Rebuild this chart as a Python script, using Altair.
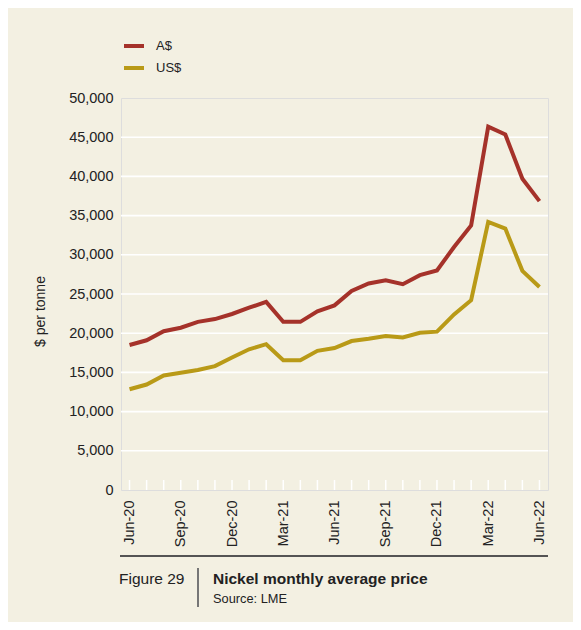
import altair as alt
import pandas as pd

months = ["Jun-20", "Jul-20", "Aug-20", "Sep-20", "Oct-20", "Nov-20", "Dec-20",
          "Jan-21", "Feb-21", "Mar-21", "Apr-21", "May-21", "Jun-21", "Jul-21",
          "Aug-21", "Sep-21", "Oct-21", "Nov-21", "Dec-21", "Jan-22", "Feb-22",
          "Mar-22", "Apr-22", "May-22", "Jun-22"]
aud = [18500, 19100, 20250, 20700, 21450, 21800, 22450, 23250, 24000, 21450,
       21450, 22800, 23550, 25400, 26350, 26750, 26250, 27400, 28000, 31000,
       33750, 46350, 45350, 39700, 36850]
usd = [12850, 13450, 14600, 14950, 15300, 15800, 16900, 17950, 18600, 16550,
       16550, 17750, 18100, 19000, 19300, 19650, 19450, 20050, 20200, 22400,
       24200, 34200, 33350, 27950, 25900]
series = ["A$", "US$"]
colors = ["#a5322a", "#b99a17"]
y_ticks = list(range(0, 50001, 5000))
label_every = 3
y_title = "$ per tonne"
fig_label = "Figure 29"
fig_title = "Nickel monthly average price"
fig_source = "Source: LME"

FONT = "Liberation Sans, Arial, sans-serif"
W, H = 427, 392

rows = []
for i, m in enumerate(months):
    rows.append({"idx": i, "month": m, "series": series[0], "price": aud[i]})
    rows.append({"idx": i, "month": m, "series": series[1], "price": usd[i]})
df = pd.DataFrame(rows)
ticks_df = pd.DataFrame({"idx": list(range(len(months))), "month": months})
grid_df = pd.DataFrame({"price": y_ticks[1:-1]})

label_arr = "[" + ",".join("'" + m + "'" for m in months) + "]"

x_scale = alt.Scale(domain=[-0.5, len(months) - 0.5], nice=False, zero=False)
y_scale = alt.Scale(domain=[0, 50000], nice=False)

x_axis = alt.Axis(
    values=list(range(0, len(months), label_every)),
    labelExpr=label_arr + "[datum.value]",
    labelAngle=-90, labelFontSize=14.5, labelColor="#222222", labelFont=FONT,
    labelPadding=10, ticks=False, domain=False, grid=False, title=None,
)
y_axis = alt.Axis(
    values=y_ticks, format=",.0f", labelFontSize=14.5, labelColor="#222222",
    labelFont=FONT, labelPadding=8, ticks=False, domain=False, grid=False,
    title=y_title, titleFont=FONT, titleFontSize=14, titleFontWeight="normal",
    titleColor="#222222", titleX=-81, titleY=213, titleBaseline="middle",
    titleAngle=-90,
)

x_enc = alt.X("idx:Q", scale=x_scale, axis=x_axis)
y_enc = alt.Y("price:Q", scale=y_scale, axis=y_axis)

grid = alt.Chart(grid_df).mark_rule(color="#ffffff", strokeWidth=1.6).encode(
    y=y_enc, x=alt.value(0), x2=alt.value(W)
)

tick_marks = alt.Chart(ticks_df).mark_rule(color="#ffffff", strokeWidth=1.5).encode(
    x=x_enc, y=alt.value(H), y2=alt.value(H - 10)
)

lines = alt.Chart(df).mark_line(strokeWidth=4).encode(
    x=x_enc,
    y=y_enc,
    color=alt.Color(
        "series:N",
        scale=alt.Scale(domain=series, range=colors),
        legend=alt.Legend(
            orient="none", legendX=1, legendY=-64, title=None,
            symbolType="stroke", symbolStrokeWidth=4, symbolSize=400,
            labelFontSize=13, labelFont=FONT, labelColor="#222222",
            labelOffset=10, rowPadding=2, padding=0,
        ),
    ),
)

bottom_rule = alt.Chart(ticks_df).mark_rule(color="#555555", strokeWidth=1.3).encode(
    x=alt.value(-1), x2=alt.value(W), y=alt.value(458)
)

sep_rule = alt.Chart(ticks_df).mark_rule(color="#777777", strokeWidth=1).encode(
    x=alt.value(77), y=alt.value(470), y2=alt.value(509)
)

cap1 = alt.Chart(pd.DataFrame({"t": [fig_label]})).mark_text(
    align="left", baseline="alphabetic", font=FONT, fontSize=15.5, color="#222222"
).encode(text="t:N", x=alt.value(-2), y=alt.value(486))

cap2 = alt.Chart(pd.DataFrame({"t": [fig_title]})).mark_text(
    align="left", baseline="alphabetic", font=FONT, fontSize=15.5, fontWeight="bold",
    color="#222222"
).encode(text="t:N", x=alt.value(92), y=alt.value(486))

cap3 = alt.Chart(pd.DataFrame({"t": [fig_source]})).mark_text(
    align="left", baseline="alphabetic", font=FONT, fontSize=12.8, color="#222222"
).encode(text="t:N", x=alt.value(92), y=alt.value(505))

chart = alt.layer(grid, tick_marks, lines, bottom_rule, sep_rule, cap1, cap2, cap3).properties(
    width=W, height=H,
    padding={"left": 113, "top": 90, "right": 25, "bottom": 132},
    autosize=alt.AutoSizeParams(type="none"),
    background="#f3f0e2",
).configure_view(
    fill="#dcdcde", stroke="transparent", strokeWidth=0
).configure(font=FONT)

chart.save("out.html", embed_options={"renderer": "svg", "actions": False})
